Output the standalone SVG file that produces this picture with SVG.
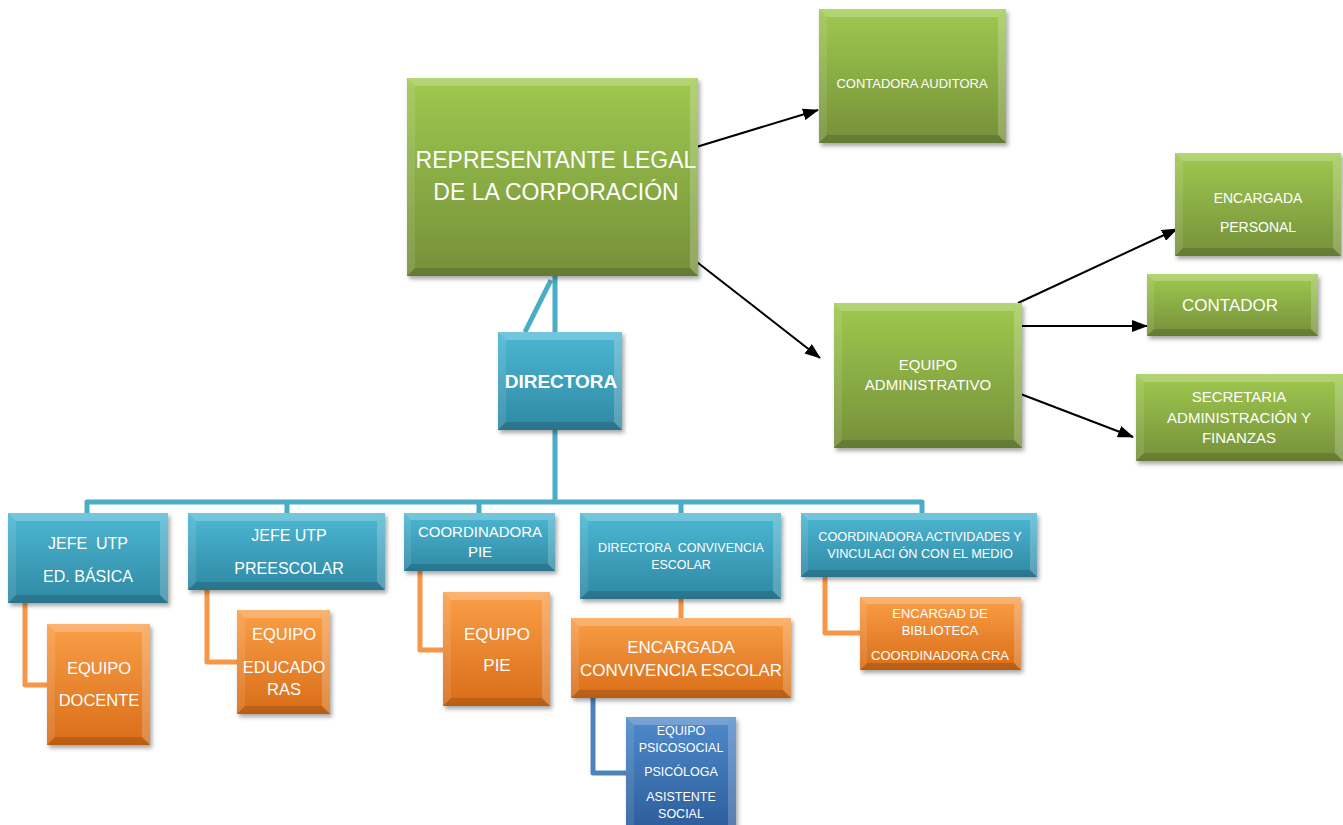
<svg xmlns="http://www.w3.org/2000/svg" width="1343" height="825" viewBox="0 0 1343 825">
<defs>
<linearGradient id="gGreen" x1="0" y1="0" x2="0" y2="1"><stop offset="0" stop-color="#9fc94f"/><stop offset="1" stop-color="#75903a"/></linearGradient>
<linearGradient id="gTeal" x1="0" y1="0" x2="0" y2="1"><stop offset="0" stop-color="#4db8d4"/><stop offset="1" stop-color="#2f88a3"/></linearGradient>
<linearGradient id="gOrange" x1="0" y1="0" x2="0" y2="1"><stop offset="0" stop-color="#fa9f48"/><stop offset="1" stop-color="#d96d18"/></linearGradient>
<linearGradient id="gBlue" x1="0" y1="0" x2="0" y2="1"><stop offset="0" stop-color="#4f8acb"/><stop offset="1" stop-color="#2e5e9c"/></linearGradient>
<filter id="shadow" x="-10%" y="-10%" width="125%" height="125%"><feDropShadow dx="2" dy="3" stdDeviation="2" flood-color="#000" flood-opacity="0.35"/></filter>
<marker id="arrow" markerUnits="userSpaceOnUse" markerWidth="16" markerHeight="12" refX="15" refY="6" orient="auto"><path d="M0,0 L16,6 L0,12 Z" fill="#000"/></marker>
</defs>
<style>
.green{fill:url(#gGreen)}
.teal{fill:url(#gTeal)}
.orange{fill:url(#gOrange)}
.blue{fill:url(#gBlue)}
.box{filter:url(#shadow)}
.bt{fill:#fff;opacity:0.22}
.bl{fill:#fff;opacity:0.1}
.br{fill:#fff;opacity:0.2}
.bb{fill:#000;opacity:0.14}
text{font-family:"Liberation Sans",Arial,sans-serif;fill:#fff;text-anchor:middle;white-space:pre}
.cT{stroke:#4bacc6;stroke-width:5;fill:none;stroke-linejoin:round}
.cO{stroke:#f79646;stroke-width:5;fill:none;stroke-linejoin:round}
.cB{stroke:#4f81bd;stroke-width:5;fill:none;stroke-linejoin:round}
.ar{stroke:#000;stroke-width:2;fill:none;marker-end:url(#arrow)}
</style>
<rect width="1343" height="825" fill="#fff"/>

<g id="connectors">
<path class="cT" d="M555,276 V332 M551,280 L525,332"/>
<path class="cT" d="M555,430 V502 M87,513 V502 H922 V513 M287,502 V513 M479,502 V513 M681,502 V513"/>
<path class="cO" d="M25,603 V685 H47"/>
<path class="cO" d="M207,590 V662 H237"/>
<path class="cO" d="M420,571 V650 H443"/>
<path class="cO" d="M681,599 V618"/>
<path class="cO" d="M825,577 V633 H860"/>
<path class="cB" d="M593,698 V773 H626"/>
<path class="ar" d="M693,148 L818,110"/>
<path class="ar" d="M693,259 L820,358"/>
<path class="ar" d="M1018,303 L1177,229"/>
<path class="ar" d="M1018,326 L1147,326"/>
<path class="ar" d="M1018,393 L1133,437"/>
</g>

<g id="representante">
<rect class="box green" x="407" y="78" width="291" height="198"/>
<polygon class="bt" points="407,78 698,78 690,86 415,86"/>
<polygon class="bl" points="407,78 415,86 415,268 407,276"/>
<polygon class="br" points="698,78 698,276 690,268 690,86"/>
<polygon class="bb" points="407,276 698,276 690,268 415,268"/>
<text x="556" y="168" font-size="23">REPRESENTANTE LEGAL</text>
<text x="556" y="200" font-size="23">DE LA CORPORACIÓN</text>
</g>

<g id="contadora-auditora">
<rect class="box green" x="819" y="9" width="187" height="134"/>
<polygon class="bt" points="819,9 1006,9 998,17 827,17"/>
<polygon class="bl" points="819,9 827,17 827,135 819,143"/>
<polygon class="br" points="1006,9 1006,143 998,135 998,17"/>
<polygon class="bb" points="819,143 1006,143 998,135 827,135"/>
<text x="912" y="88" font-size="13">CONTADORA AUDITORA</text>
</g>

<g id="encargada-personal">
<rect class="box green" x="1175" y="153" width="166" height="103"/>
<polygon class="bt" points="1175,153 1341,153 1333,161 1183,161"/>
<polygon class="bl" points="1175,153 1183,161 1183,248 1175,256"/>
<polygon class="br" points="1341,153 1341,256 1333,248 1333,161"/>
<polygon class="bb" points="1175,256 1341,256 1333,248 1183,248"/>
<text x="1258" y="203" font-size="14">ENCARGADA</text>
<text x="1258" y="232" font-size="14">PERSONAL</text>
</g>

<g id="contador">
<rect class="box green" x="1147" y="274" width="171" height="62"/>
<polygon class="bt" points="1147,274 1318,274 1311,281 1154,281"/>
<polygon class="bl" points="1147,274 1154,281 1154,329 1147,336"/>
<polygon class="br" points="1318,274 1318,336 1311,329 1311,281"/>
<polygon class="bb" points="1147,336 1318,336 1311,329 1154,329"/>
<text x="1230" y="311" font-size="17">CONTADOR</text>
</g>

<g id="equipo-administrativo">
<rect class="box green" x="834" y="303" width="188" height="145"/>
<polygon class="bt" points="834,303 1022,303 1014,311 842,311"/>
<polygon class="bl" points="834,303 842,311 842,440 834,448"/>
<polygon class="br" points="1022,303 1022,448 1014,440 1014,311"/>
<polygon class="bb" points="834,448 1022,448 1014,440 842,440"/>
<text x="928" y="370" font-size="15">EQUIPO</text>
<text x="928" y="390" font-size="15">ADMINISTRATIVO</text>
</g>

<g id="secretaria">
<rect class="box green" x="1136" y="374" width="207" height="87"/>
<polygon class="bt" points="1136,374 1343,374 1335,382 1144,382"/>
<polygon class="bl" points="1136,374 1144,382 1144,453 1136,461"/>
<polygon class="br" points="1343,374 1343,461 1335,453 1335,382"/>
<polygon class="bb" points="1136,461 1343,461 1335,453 1144,453"/>
<text x="1239" y="402" font-size="15">SECRETARIA</text>
<text x="1239" y="423" font-size="15">ADMINISTRACIÓN Y</text>
<text x="1239" y="443" font-size="15">FINANZAS</text>
</g>

<g id="directora">
<rect class="box teal" x="498" y="332" width="124" height="98"/>
<polygon class="bt" points="498,332 622,332 614,340 506,340"/>
<polygon class="bl" points="498,332 506,340 506,422 498,430"/>
<polygon class="br" points="622,332 622,430 614,422 614,340"/>
<polygon class="bb" points="498,430 622,430 614,422 506,422"/>
<text x="561" y="388" font-size="19" font-weight="bold">DIRECTORA</text>
</g>

<g id="jefe-utp-basica">
<rect class="box teal" x="8" y="513" width="160" height="90"/>
<polygon class="bt" points="8,513 168,513 160,521 16,521"/>
<polygon class="bl" points="8,513 16,521 16,595 8,603"/>
<polygon class="br" points="168,513 168,603 160,595 160,521"/>
<polygon class="bb" points="8,603 168,603 160,595 16,595"/>
<text x="88" y="549" font-size="16">JEFE  UTP</text>
<text x="88" y="582" font-size="16">ED. BÁSICA</text>
</g>

<g id="jefe-utp-preescolar">
<rect class="box teal" x="188" y="513" width="197" height="77"/>
<polygon class="bt" points="188,513 385,513 377,521 196,521"/>
<polygon class="bl" points="188,513 196,521 196,582 188,590"/>
<polygon class="br" points="385,513 385,590 377,582 377,521"/>
<polygon class="bb" points="188,590 385,590 377,582 196,582"/>
<text x="289" y="541" font-size="16">JEFE UTP</text>
<text x="289" y="574" font-size="16">PREESCOLAR</text>
</g>

<g id="coordinadora-pie">
<rect class="box teal" x="404" y="513" width="151" height="58"/>
<polygon class="bt" points="404,513 555,513 548,520 411,520"/>
<polygon class="bl" points="404,513 411,520 411,564 404,571"/>
<polygon class="br" points="555,513 555,571 548,564 548,520"/>
<polygon class="bb" points="404,571 555,571 548,564 411,564"/>
<text x="480" y="537" font-size="15">COORDINADORA</text>
<text x="480" y="557" font-size="15">PIE</text>
</g>

<g id="directora-convivencia">
<rect class="box teal" x="580" y="513" width="201" height="86"/>
<polygon class="bt" points="580,513 781,513 773,521 588,521"/>
<polygon class="bl" points="580,513 588,521 588,591 580,599"/>
<polygon class="br" points="781,513 781,599 773,591 773,521"/>
<polygon class="bb" points="580,599 781,599 773,591 588,591"/>
<text x="681" y="552" font-size="12.5">DIRECTORA  CONVIVENCIA</text>
<text x="681" y="569" font-size="12.5">ESCOLAR</text>
</g>

<g id="coordinadora-actividades">
<rect class="box teal" x="801" y="513" width="236" height="64"/>
<polygon class="bt" points="801,513 1037,513 1030,520 808,520"/>
<polygon class="bl" points="801,513 808,520 808,570 801,577"/>
<polygon class="br" points="1037,513 1037,577 1030,570 1030,520"/>
<polygon class="bb" points="801,577 1037,577 1030,570 808,570"/>
<text x="920" y="541" font-size="12.7">COORDINADORA ACTIVIDADES Y</text>
<text x="920" y="558" font-size="12.7">VINCULACI ÓN CON EL MEDIO</text>
</g>

<g id="equipo-docente">
<rect class="box orange" x="47" y="624" width="103" height="121"/>
<polygon class="bt" points="47,624 150,624 142,632 55,632"/>
<polygon class="bl" points="47,624 55,632 55,737 47,745"/>
<polygon class="br" points="150,624 150,745 142,737 142,632"/>
<polygon class="bb" points="47,745 150,745 142,737 55,737"/>
<text x="99" y="674" font-size="16.5">EQUIPO</text>
<text x="99" y="706" font-size="16.5">DOCENTE</text>
</g>

<g id="equipo-educadoras">
<rect class="box orange" x="237" y="610" width="93" height="104"/>
<polygon class="bt" points="237,610 330,610 322,618 245,618"/>
<polygon class="bl" points="237,610 245,618 245,706 237,714"/>
<polygon class="br" points="330,610 330,714 322,706 322,618"/>
<polygon class="bb" points="237,714 330,714 322,706 245,706"/>
<text x="284" y="640" font-size="16.5">EQUIPO</text>
<text x="284" y="673" font-size="16.5">EDUCADO</text>
<text x="284" y="695" font-size="16.5">RAS</text>
</g>

<g id="equipo-pie">
<rect class="box orange" x="443" y="592" width="107" height="114"/>
<polygon class="bt" points="443,592 550,592 542,600 451,600"/>
<polygon class="bl" points="443,592 451,600 451,698 443,706"/>
<polygon class="br" points="550,592 550,706 542,698 542,600"/>
<polygon class="bb" points="443,706 550,706 542,698 451,698"/>
<text x="497" y="640" font-size="17">EQUIPO</text>
<text x="497" y="671" font-size="17">PIE</text>
</g>

<g id="encargada-convivencia">
<rect class="box orange" x="571" y="618" width="220" height="80"/>
<polygon class="bt" points="571,618 791,618 783,626 579,626"/>
<polygon class="bl" points="571,618 579,626 579,690 571,698"/>
<polygon class="br" points="791,618 791,698 783,690 783,626"/>
<polygon class="bb" points="571,698 791,698 783,690 579,690"/>
<text x="681" y="653" font-size="17">ENCARGADA</text>
<text x="681" y="676" font-size="17">CONVIVENCIA ESCOLAR</text>
</g>

<g id="encargada-biblioteca">
<rect class="box orange" x="860" y="597" width="161" height="73"/>
<polygon class="bt" points="860,597 1021,597 1014,604 867,604"/>
<polygon class="bl" points="860,597 867,604 867,663 860,670"/>
<polygon class="br" points="1021,597 1021,670 1014,663 1014,604"/>
<polygon class="bb" points="860,670 1021,670 1014,663 867,663"/>
<text x="940" y="618" font-size="13">ENCARGAD DE</text>
<text x="940" y="635" font-size="13">BIBLIOTECA</text>
<text x="940" y="660" font-size="13">COORDINADORA CRA</text>
</g>

<g id="equipo-psicosocial">
<rect class="box blue" x="626" y="717" width="110" height="110"/>
<polygon class="bt" points="626,717 736,717 728,725 634,725"/>
<polygon class="bl" points="626,717 634,725 634,827 626,827"/>
<polygon class="br" points="736,717 736,827 728,827 728,725"/>
<text x="681" y="735" font-size="12.5">EQUIPO</text>
<text x="681" y="752" font-size="12.5">PSICOSOCIAL</text>
<text x="681" y="776" font-size="12.5">PSICÓLOGA</text>
<text x="681" y="801" font-size="12.5">ASISTENTE</text>
<text x="681" y="818" font-size="12.5">SOCIAL</text>
</g>
</svg>
